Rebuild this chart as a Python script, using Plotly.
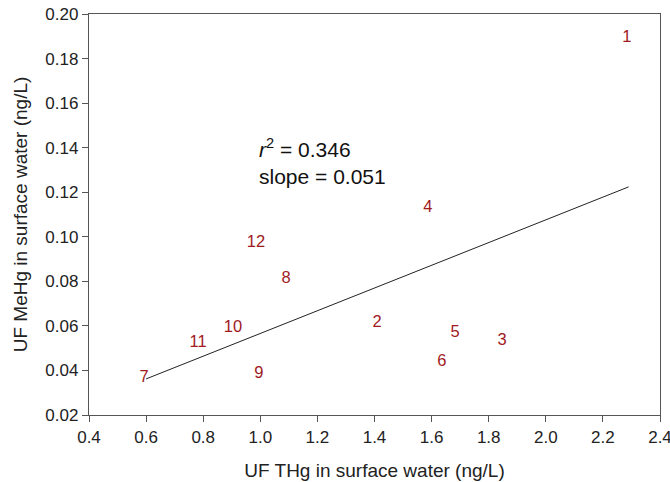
import plotly.graph_objects as go

labels = ["1", "2", "3", "4", "5", "6", "7", "8", "9", "10", "11", "12"]
thg = [2.284, 1.409, 1.847, 1.587, 1.682, 1.636, 0.593, 1.090, 0.995, 0.904, 0.782, 0.985]
mehg = [0.1892, 0.0613, 0.0532, 0.1129, 0.0568, 0.0438, 0.0366, 0.0811, 0.0384, 0.0591, 0.0523, 0.0972]

x_ticks = [0.4, 0.6, 0.8, 1.0, 1.2, 1.4, 1.6, 1.8, 2.0, 2.2, 2.4]
y_ticks = [0.02, 0.04, 0.06, 0.08, 0.10, 0.12, 0.14, 0.16, 0.18, 0.20]

slope = 0.051
intercept = 0.0056
r2 = 0.346
fit_x = [0.6, 2.29]
fit_y = [intercept + slope * x for x in fit_x]

font_family = "Arial, Liberation Sans, sans-serif"

fig = go.Figure()
fig.add_trace(go.Scatter(
    x=fit_x, y=fit_y, mode="lines",
    line=dict(color="#222222", width=1), showlegend=False, hoverinfo="skip"))
fig.add_trace(go.Scatter(
    x=thg, y=mehg, mode="text", text=labels,
    textposition="middle center",
    textfont=dict(color="#a01a1e", size=16.5, family=font_family),
    showlegend=False))

fig.add_annotation(x=0.99, y=0.1398, xref="x", yref="y", xanchor="left", yanchor="middle",
                   text="<i>r</i><sup>2</sup> = %.3f" % r2, showarrow=False,
                   font=dict(size=21, color="#111111", family=font_family))
fig.add_annotation(x=0.99, y=0.1272, xref="x", yref="y", xanchor="left", yanchor="middle",
                   text="slope = %.3f" % slope, showarrow=False,
                   font=dict(size=21, color="#111111", family=font_family))

axis_common = dict(
    showline=True, linecolor="#555555", linewidth=1.3, mirror=True,
    ticks="outside", ticklen=6, tickcolor="#555555", tickwidth=1.3,
    showgrid=False, zeroline=False, automargin=False,
    ticklabeloverflow="allow",
    tickfont=dict(size=17, color="#222222", family=font_family),
)

fig.update_xaxes(range=[0.4, 2.4], tickvals=x_ticks, ticktext=["%.1f" % v for v in x_ticks],
                 title=dict(text="UF THg in surface water (ng/L)",
                            font=dict(size=19, color="#222222", family=font_family),
                            standoff=18),
                 **axis_common)
fig.update_yaxes(range=[0.02, 0.20], tickvals=y_ticks, ticktext=["%.2f" % v for v in y_ticks],
                 title=dict(text="UF MeHg in surface water (ng/L)",
                            font=dict(size=19, color="#222222", family=font_family),
                            standoff=12),
                 **axis_common)

fig.update_layout(
    width=670, height=482,
    margin=dict(l=89, r=10, t=14, b=67),
    plot_bgcolor="white", paper_bgcolor="white",
    font=dict(family=font_family),
)

fig.write_html("out.html")
